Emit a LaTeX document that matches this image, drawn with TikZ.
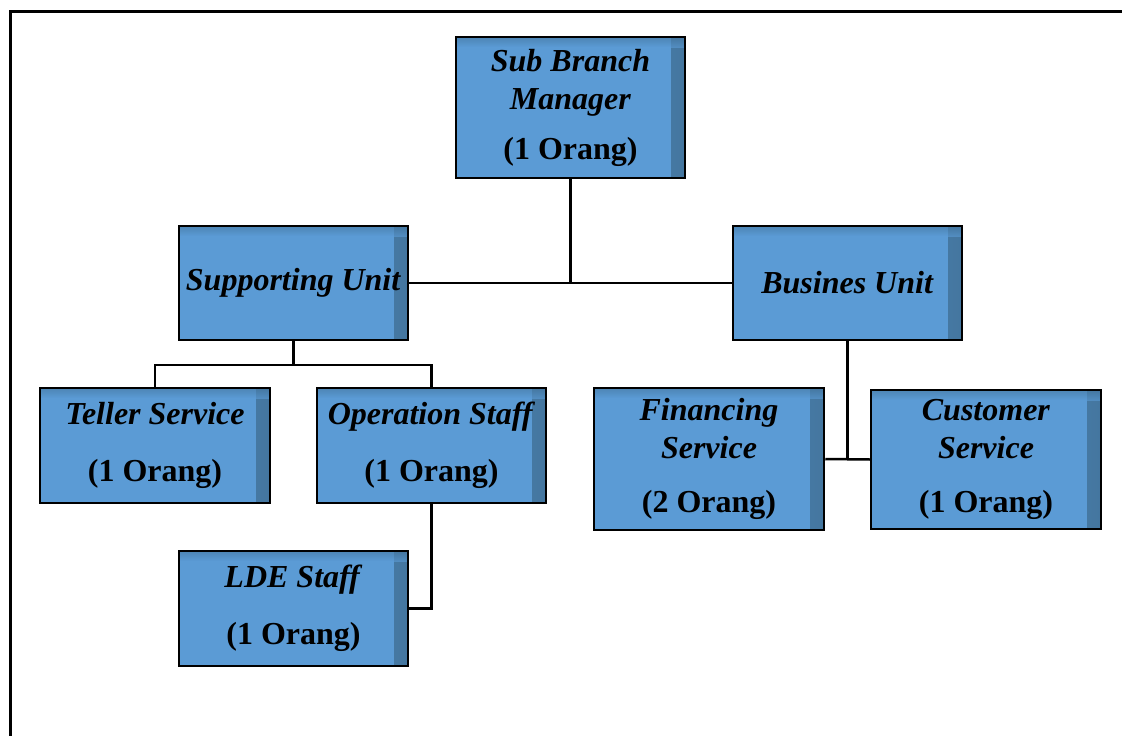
\documentclass[tikz,border=0pt]{standalone}
\usepackage{fontspec}
\setmainfont{Liberation Serif}
\definecolor{boxblue}{HTML}{5B9BD5}
\definecolor{boxshade}{HTML}{44769F}
\begin{document}
\begin{tikzpicture}[x=1pt,y=-1pt,
  orgbox/.style={draw=black, line width=2.5pt, fill=boxblue, rectangle, inner sep=0pt,
    align=center, font=\fontsize{32}{38}\selectfont,
    path picture={
      \shade[left color=boxblue, right color=boxshade]
        ([xshift=-14pt]path picture bounding box.north east) rectangle (path picture bounding box.south east);
      \shade[top color=boxshade, bottom color=boxblue, opacity=0.6]
        (path picture bounding box.north west) rectangle ([yshift=-10pt]path picture bounding box.north east);
    }},
  conn/.style={draw=black, line width=2.5pt}]
\useasboundingbox (0,0) rectangle (1122,736);
\clip (0,0) rectangle (1122,736);
\fill[white] (0,0) rectangle (1122,736);
\draw[line width=3pt] (10,760) -- (10,11) -- (1140,11);

\node[orgbox, minimum width=229pt, minimum height=141pt] (sbm) at (570.5,107.5)
  {\textbf{\textit{Sub Branch}}\\\textbf{\textit{Manager}}\\[12pt]\textbf{(1 Orang)}};
\node[orgbox, minimum width=229pt, minimum height=114pt] (su) at (293.5,283)
  {\textbf{\textit{Supporting Unit}}};
\node[orgbox, minimum width=229pt, minimum height=114pt] (bu) at (847.5,283)
  {\textbf{\textit{Busines Unit}}};
\node[orgbox, minimum width=230pt, minimum height=115pt] (teller) at (155,445.5)
  {\textbf{\textit{Teller Service}}\\[19pt]\textbf{(1 Orang)}};
\node[orgbox, minimum width=229pt, minimum height=115pt] (ops) at (431.5,445.5)
  {\textbf{\textit{Operation Staff}}\\[19pt]\textbf{(1 Orang)}};
\node[orgbox, minimum width=229pt, minimum height=115pt] (lde) at (293.5,608.5)
  {\textbf{\textit{LDE Staff}}\\[19pt]\textbf{(1 Orang)}};
\node[orgbox, minimum width=230pt, minimum height=142pt] (fin) at (709,459)
  {\textbf{\textit{Financing}}\\\textbf{\textit{Service}}\\[16pt]\textbf{(2 Orang)}};
\node[orgbox, minimum width=230pt, minimum height=139pt] (cs) at (986,459.5)
  {\textbf{\textit{Customer}}\\\textbf{\textit{Service}}\\[16pt]\textbf{(1 Orang)}};

\coordinate (j1) at (293.5,365);
\draw[conn] (sbm.south) -- (sbm.south |- su.east);
\draw[conn] (su.east) -- (bu.west);
\draw[conn] (su.south) -- (j1);
\draw[conn] (teller.north) |- (j1) -| (ops.north);
\draw[conn] (ops.south) |- (lde.east);
\draw[conn] (bu.south) -- (bu.south |- fin.east);
\draw[conn] (fin.east) -- (cs.west);
\end{tikzpicture}
\end{document}
